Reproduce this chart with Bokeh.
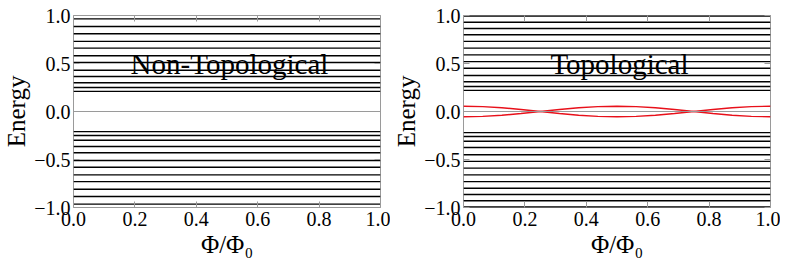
from bokeh.plotting import figure
from bokeh.layouts import row
from bokeh.models import LinearAxis, Range1d, Label, FixedTicker, Span, CustomJSTickFormatter
from bokeh.embed import file_html
from bokeh.resources import INLINE

# ---- data ----
phi_ends = [0.0, 1.0]
nontopo_levels = [0.21, 0.25, 0.30, 0.365, 0.43, 0.51, 0.58, 0.66, 0.73, 0.81, 0.885, 0.965]
topo_levels = [0.22, 0.26, 0.31, 0.375, 0.45, 0.52, 0.59, 0.66, 0.73, 0.80, 0.865, 0.93, 0.995]
phi_red = [0.0, 0.0625, 0.125, 0.1875, 0.25, 0.3125, 0.375, 0.4375, 0.5,
           0.5625, 0.625, 0.6875, 0.75, 0.8125, 0.875, 0.9375, 1.0]
red_upper = [0.055, 0.051, 0.039, 0.021, 0.0, -0.021, -0.039, -0.051, -0.055,
             -0.051, -0.039, -0.021, 0.0, 0.021, 0.039, 0.051, 0.055]
red_lower = [-v for v in red_upper]
x_ticks = [0.0, 0.2, 0.4, 0.6, 0.8, 1.0]
y_ticks = [-1.0, -0.5, 0.0, 0.5, 1.0]
panel_titles = ["Non-Topological", "Topological"]

FONT = "Liberation Serif"
GRAY = "#9a9a9a"

fmt_code = "return tick.toFixed(1).replace('-', '\u2212');"


def style_ticks(ax):
    ax.axis_line_color = None
    ax.major_tick_in = 6
    ax.major_tick_out = 0
    ax.minor_tick_in = 3
    ax.minor_tick_out = 0
    ax.major_tick_line_color = GRAY
    ax.minor_tick_line_color = GRAY


def make_panel(levels, title, red=False):
    p = figure(width=390, height=265, output_backend="svg", toolbar_location=None,
               x_range=Range1d(0, 1), y_range=Range1d(-1, 1),
               min_border_left=69, min_border_right=10,
               min_border_top=15, min_border_bottom=58)
    p.grid.visible = False
    p.outline_line_color = GRAY
    p.outline_line_width = 1

    for ax, ticks, nminor in ((p.xaxis[0], x_ticks, 4), (p.yaxis[0], y_ticks, 5)):
        style_ticks(ax)
        ax.ticker = FixedTicker(ticks=ticks, num_minor_ticks=nminor)
        ax.formatter = CustomJSTickFormatter(code=fmt_code)
        ax.major_label_text_font = FONT
        ax.major_label_text_font_size = "20px"
        ax.major_label_text_color = "black"
        ax.axis_label_text_font = FONT
        ax.axis_label_text_font_size = "25px"
        ax.axis_label_text_font_style = "normal"
        ax.axis_label_text_color = "black"
    p.xaxis.axis_label = "Φ/Φ₀"
    p.yaxis.axis_label = "Energy"
    p.xaxis.major_label_standoff = 4
    p.yaxis.major_label_standoff = 3
    p.xaxis.axis_label_standoff = 2
    p.yaxis.axis_label_standoff = 1

    top = LinearAxis(ticker=FixedTicker(ticks=x_ticks, num_minor_ticks=4),
                     formatter=CustomJSTickFormatter(code="return '';"))
    style_ticks(top)
    top.major_label_standoff = 0
    p.add_layout(top, "above")
    right = LinearAxis(ticker=FixedTicker(ticks=y_ticks, num_minor_ticks=5),
                       formatter=CustomJSTickFormatter(code="return '';"))
    style_ticks(right)
    right.major_label_standoff = 0
    p.add_layout(right, "right")

    p.add_layout(Span(location=0, dimension="width", line_color=GRAY, line_width=1))

    xs = [phi_ends for _ in levels] + [phi_ends for _ in levels]
    ys = [[e, e] for e in levels] + [[-e, -e] for e in levels]
    p.multi_line(xs=xs, ys=ys, line_color="black", line_width=1.4)

    if red:
        p.line(phi_red, red_upper, line_color="#e8101a", line_width=1.4)
        p.line(phi_red, red_lower, line_color="#e8101a", line_width=1.4)

    p.add_layout(Label(x=0.508, y=0.5, text=title, text_align="center",
                       text_baseline="alphabetic", text_font=FONT,
                       text_font_size="29px", text_color="black"))
    return p


p1 = make_panel(nontopo_levels, panel_titles[0])
p2 = make_panel(topo_levels, panel_titles[1], red=True)
layout = row(p1, p2)

open("out.html", "w").write(file_html(layout, INLINE))
